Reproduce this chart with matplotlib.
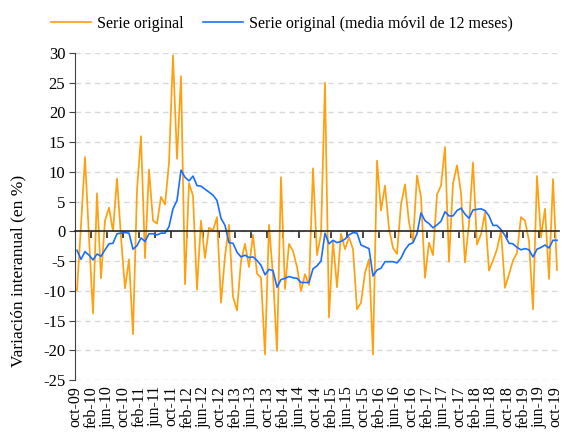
import numpy as np
import matplotlib
matplotlib.use("Agg")
import matplotlib.pyplot as plt
import matplotlib.transforms as mtransforms

# Monthly series, oct-09 .. oct-19 (121 months)
serie_original = [
    -9.9, 1.0, 12.5, -1.0, -13.8, 6.4, -7.9, 1.8, 4.0, 0.0, 8.9, -1.0,
    -9.6, -4.7, -17.3, 7.0, 16.0, -4.5, 10.4, 1.8, 1.3, 5.8, 4.5, 11.5,
    29.6, 12.2, 26.1, -8.9, 8.1, 6.0, -9.8, 1.8, -4.5, 0.6, 0.2, 2.4,
    -12.0, -4.2, 1.1, -11.0, -13.3, -5.0, -2.1, -6.0, -0.6, -7.1, -7.8, -20.7,
    1.1, -7.5, -20.1, 9.1, -9.7, -2.1, -3.3, -6.0, -10.0, -7.2, -9.0, 10.6,
    -4.0, -0.5, 25.0, -14.5, -1.6, -9.4, -0.4, -3.0, -1.0, -3.0, -13.1, -12.0,
    -7.0, -4.7, -20.7, 11.9, 3.5, 7.7, 0.5, -2.8, -3.8, 4.5, 7.9, 1.5,
    -1.7, 9.4, 5.8, -7.8, -1.9, -4.0, 6.2, 7.7, 14.2, -5.1, 8.1, 11.1,
    6.5, -5.2, 1.3, 11.6, -2.2, -0.5, 3.2, -6.6, -4.9, -3.0, 0.1, -9.5,
    -7.2, -4.9, -3.6, 2.4, 1.8, -1.6, -13.1, 9.3, -1.0, 3.8, -8.0, 8.8,
    -6.5,
]

media_movil = [
    -3.2, -4.7, -3.4, -4.0, -4.8, -3.8, -4.2, -3.1, -2.1, -2.0, -0.4, -0.3,
    -0.2, -0.3, -3.0, -2.4, -1.1, -1.7, -0.4, -0.4, -0.6, -0.3, -0.3, 0.8,
    3.8, 5.2, 10.3, 9.1, 8.5, 9.3, 7.7, 7.6, 7.1, 6.6, 6.1, 5.2,
    2.2, 1.0, -1.9, -2.0, -3.5, -4.3, -4.0, -4.4, -4.3, -4.9, -5.7, -7.3,
    -6.4, -6.6, -9.4, -8.1, -7.9, -7.6, -7.8, -7.9, -8.6, -8.6, -8.6, -6.3,
    -5.8, -5.0, -0.3, -2.1, -1.5, -1.9, -1.7, -1.3, -0.6, -0.2, -0.3, -2.3,
    -2.6, -2.9, -7.5, -6.5, -6.2, -5.1, -5.1, -5.1, -5.3, -4.5, -3.1, -2.2,
    -1.9, -0.4, 3.1, 1.8, 1.3, 0.6, 1.1, 1.7, 3.3, 2.6, 2.6, 3.5,
    3.9, 2.9, 2.2, 3.6, 3.7, 3.8, 3.5, 2.6, 1.0, 1.0, 0.3, -0.7,
    -2.0, -2.1, -2.7, -3.1, -2.9, -3.1, -4.3, -3.0, -2.7, -2.3, -2.8, -1.5,
    -1.5,
]

tick_labels = [
    "oct-09", "feb-10", "jun-10", "oct-10", "feb-11", "jun-11", "oct-11",
    "feb-12", "jun-12", "oct-12", "feb-13", "jun-13", "oct-13", "feb-14",
    "jun-14", "oct-14", "feb-15", "jun-15", "oct-15", "feb-16", "jun-16",
    "oct-16", "feb-17", "jun-17", "oct-17", "feb-18", "jun-18", "oct-18",
    "feb-19", "jun-19", "oct-19",
]

plt.rcParams["font.family"] = ["Liberation Serif", "DejaVu Serif"]
plt.rcParams["axes.unicode_minus"] = False

fig = plt.figure(figsize=(5.64, 4.47), dpi=100)
ax = fig.add_axes([75 / 564, 1 - 380 / 447, 484 / 564, 327 / 447])

x = np.arange(len(serie_original))
ax.plot(x, serie_original, color="#FFA00F", lw=1.25, label="Serie original")
ax.plot(x, media_movil, color="#1A6EFF", lw=1.2,
        label="Serie original (media móvil de 12 meses)")

ax.set_xlim(-0.5, len(x) - 0.5)
ax.set_ylim(-25, 30)
ax.set_yticks(np.arange(-25, 31, 5))
ax.yaxis.grid(True, color="#d9d9d9", linestyle=(0, (4, 3)), lw=1.0)
ax.set_axisbelow(True)

for s in ["top", "right"]:
    ax.spines[s].set_visible(False)
ax.spines["left"].set_color("#404040")
ax.spines["bottom"].set_position(("data", 0))
ax.spines["bottom"].set_color("#262626")
ax.spines["bottom"].set_linewidth(1.2)

ax.set_xticks(np.arange(3.5, len(x), 4))
ax.tick_params(axis="x", length=5, width=1.2, color="#262626", labelbottom=False)
ax.tick_params(axis="y", length=4, color="#404040", labelsize=12, pad=3)

# month labels below the plot area
offset = mtransforms.ScaledTranslation(-1.5 / 100, -6 / 100, fig.dpi_scale_trans)
trans = mtransforms.blended_transform_factory(ax.transData, ax.transAxes) + offset
for k, lab in enumerate(tick_labels):
    ax.text(4 * k, 0, lab, transform=trans, rotation=90, ha="center", va="top",
            fontsize=11.5)

ax.set_ylabel("Variación interanual (en %)", fontsize=12.5)
ax.yaxis.set_label_coords(-0.1, 0.335)

fig.legend(loc="center", bbox_to_anchor=(0.5, 1 - 24 / 447), ncol=2,
           frameon=False, fontsize=11.5, handlelength=2.5, columnspacing=1.2,
           handletextpad=0.4)

fig.savefig("out.png", dpi=100)
